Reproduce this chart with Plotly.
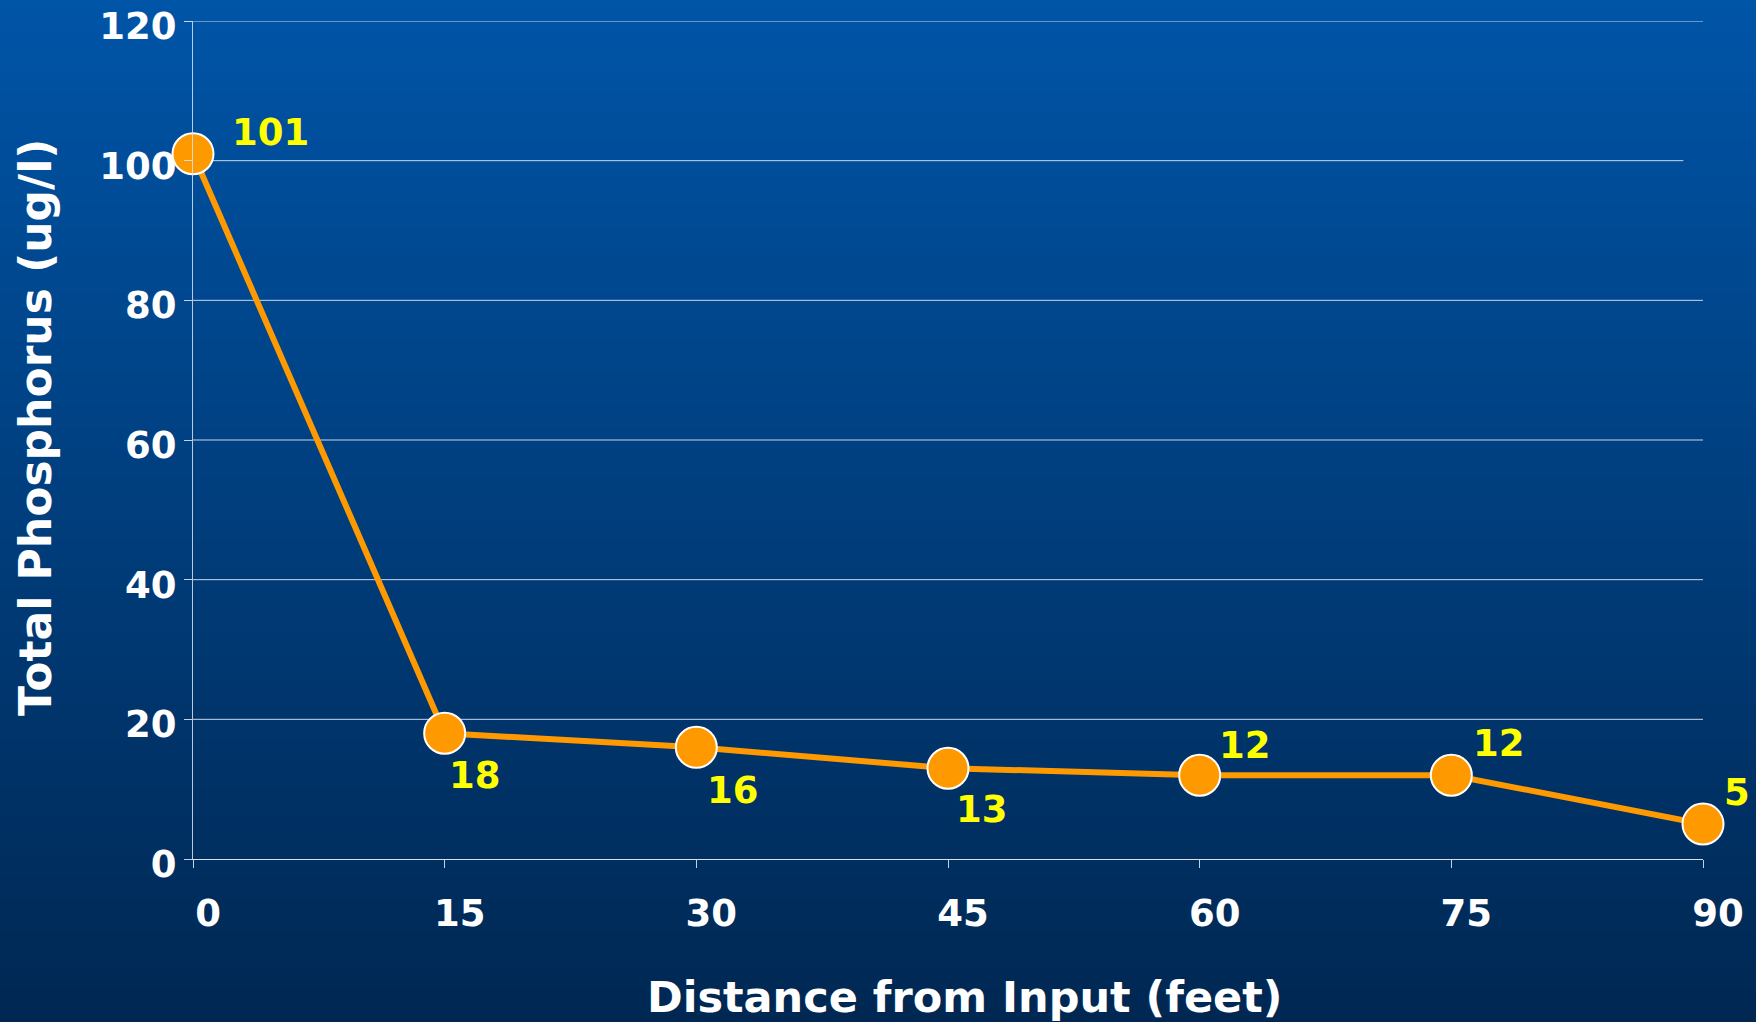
import plotly.graph_objects as go

# Measured total phosphorus along the flow path
distance_ft = [0, 15, 30, 45, 60, 75, 90]
phosphorus_ugl = [101, 18, 16, 13, 12, 12, 5]

x_ticks = [0, 15, 30, 45, 60, 75, 90]
y_ticks = [0, 20, 40, 60, 80, 100, 120]

x_title = "Distance from Input (feet)"
y_title = "Total Phosphorus (ug/l)"

# Figure geometry
W, H = 1756, 1022
M_L, M_R, M_T, M_B = 193, 53, 21, 163
PW, PH = W - M_L - M_R, H - M_T - M_B

FONT = "DejaVu Sans"
ORANGE = "#FF9900"
YELLOW = "#FFFF00"
TOP_RGB = (0, 85, 168)
BOT_RGB = (0, 38, 80)

# value label offsets (px) from each marker
label_offsets = [(77, 21), (30, -42), (37, -43), (34, -41), (45, 30), (48, 32), (34, 32)]

fig = go.Figure()

fig.add_trace(go.Scatter(
    x=distance_ft, y=phosphorus_ugl,
    mode="lines+markers",
    line=dict(color=ORANGE, width=6),
    marker=dict(size=41, color=ORANGE, line=dict(color="white", width=2)),
    cliponaxis=False,
    hoverinfo="skip",
))

shapes = []
# vertical background gradient built from thin bands (extends past the page edges)
n_bands = 200
x_lo, x_hi = -M_L / PW - 0.02, 1 + M_R / PW + 0.02
y_lo, y_hi = -M_B / PH - 0.03, 1 + M_T / PH + 0.01
for i in range(n_bands):
    t = (i + 0.5) / n_bands
    r, g, b = (round(TOP_RGB[k] + (BOT_RGB[k] - TOP_RGB[k]) * t) for k in range(3))
    y1 = y_hi - (y_hi - y_lo) * i / n_bands
    y0 = y_hi - (y_hi - y_lo) * (i + 1) / n_bands - 0.001
    shapes.append(dict(type="rect", xref="paper", yref="paper", layer="below",
                       x0=x_lo, x1=x_hi, y0=y0, y1=y1,
                       fillcolor=f"rgb({r},{g},{b})", line=dict(width=0)))

# horizontal gridlines
for v in y_ticks[1:]:
    end = 0.987 if v == 100 else 1.0
    shapes.append(dict(type="line", xref="paper", yref="y", layer="below",
                       x0=0, x1=end, y0=v, y1=v,
                       line=dict(color="rgba(235,240,250,0.85)", width=1)))

annotations = []
for x, y, (dx, dy) in zip(distance_ft, phosphorus_ugl, label_offsets):
    annotations.append(dict(x=x, y=y, xref="x", yref="y", text=str(y),
                            showarrow=False, xshift=dx, yshift=dy,
                            xanchor="center", yanchor="middle",
                            font=dict(family=FONT, size=37, color=YELLOW, weight="bold")))

# axis titles
annotations.append(dict(x=0.511, y=-0.1647, xref="paper", yref="paper", text=x_title,
                        showarrow=False, xanchor="center", yanchor="middle",
                        font=dict(family=FONT, size=43, color="white", weight="bold")))
annotations.append(dict(x=-0.1043, y=0.515, xref="paper", yref="paper", text=y_title,
                        showarrow=False, xanchor="center", yanchor="middle", textangle=-90,
                        font=dict(family=FONT, size=44, color="white", weight="bold")))

fig.update_layout(
    width=W, height=H,
    margin=dict(l=M_L, r=M_R, t=M_T, b=M_B, autoexpand=False),
    paper_bgcolor="rgb(0,38,80)",
    plot_bgcolor="rgba(0,0,0,0)",
    showlegend=False,
    shapes=shapes,
    annotations=annotations,
    xaxis=dict(
        range=[0, 90], tickvals=x_ticks, ticktext=[str(v) for v in x_ticks],
        showgrid=False, zeroline=False, automargin=False,
        showline=True, linecolor="rgba(240,244,252,0.9)", linewidth=1,
        ticks="outside", ticklen=8, tickcolor="rgba(220,226,240,0.9)", tickwidth=1,
        ticklabelshift=15, ticklabelstandoff=14,
        tickfont=dict(family=FONT, size=37, color="white", weight="bold"),
    ),
    yaxis=dict(
        range=[0, 120], tickvals=y_ticks, ticktext=[str(v) for v in y_ticks],
        showgrid=False, zeroline=False, automargin=False,
        showline=True, linecolor="rgba(220,226,240,0.85)", linewidth=1,
        ticks="outside", ticklen=8, tickcolor="rgba(220,226,240,0.9)", tickwidth=1,
        ticklabelshift=5, ticklabeloverflow="allow",
        tickfont=dict(family=FONT, size=37, color="white", weight="bold"),
    ),
)

fig.write_html("out.html")
